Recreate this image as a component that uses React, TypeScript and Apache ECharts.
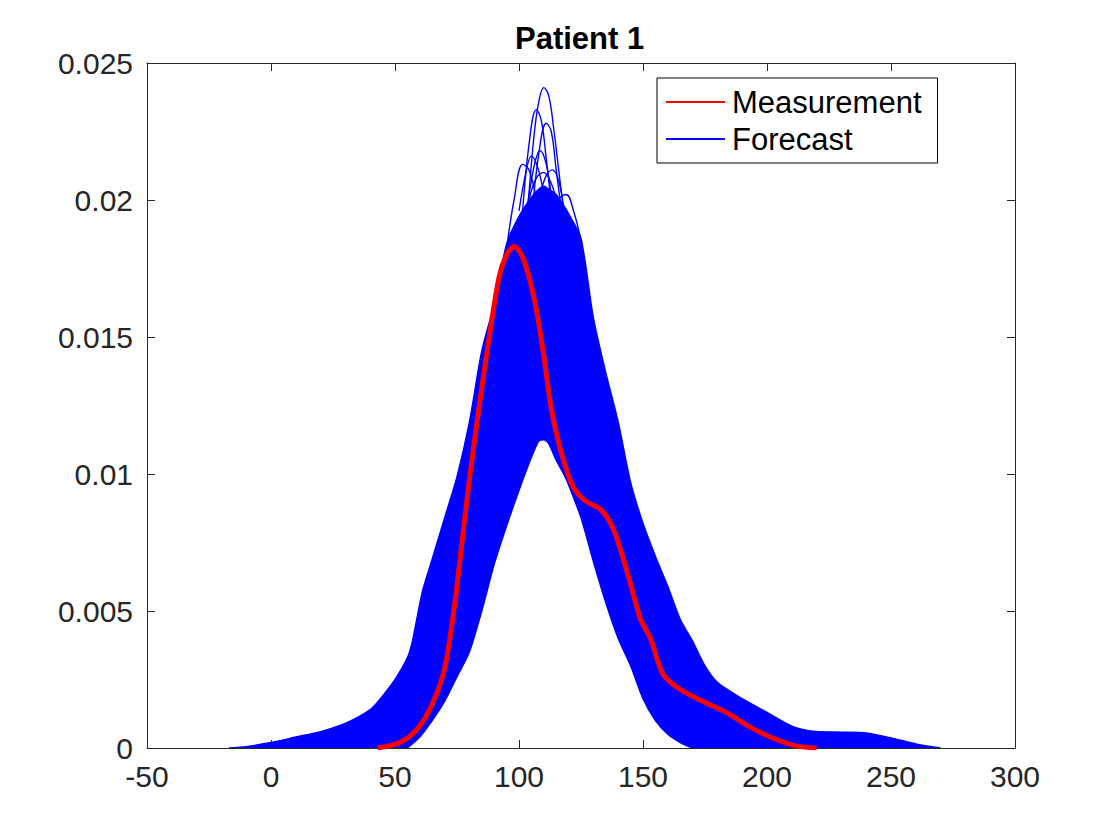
import React, { useEffect, useRef } from "react";
import * as echarts from "echarts";

// Shared x grid for the forecast envelope
const gridX = [-17, -10, 0, 10, 20, 30, 40, 45, 50, 55, 57, 61, 65, 70, 75, 80, 85, 90, 95, 100, 105, 108, 110, 112, 115, 118, 120, 125, 130, 135, 140, 145, 150, 155, 160, 165, 170, 175, 180, 190, 200, 210, 220, 230, 240, 250, 260, 270];
// Upper edge of the dense forecast bundle
const forecastUpper = [0, 0.00005, 0.0002, 0.0004, 0.0006, 0.0009, 0.0014, 0.0019, 0.0025, 0.0033, 0.0039, 0.0057, 0.0069, 0.0084, 0.0099, 0.0119, 0.0145, 0.0162, 0.0184, 0.0194, 0.0201, 0.0204, 0.0205, 0.0204, 0.0202, 0.0198, 0.0195, 0.0186, 0.0157, 0.0137, 0.0119, 0.0097, 0.0082, 0.007, 0.0059, 0.0047, 0.0039, 0.003, 0.0024, 0.0018, 0.0013, 0.0008, 0.0006, 0.00058, 0.00055, 0.00037, 0.00015, 0];
// Lower edge of the forecast bundle (lowest curve)
const lowX = [55, 60, 65, 70, 75, 80, 85, 90, 95, 100, 105, 108, 110, 112, 115, 118, 120, 125, 130, 135, 140, 145, 150, 155, 160, 165, 170];
const forecastLower = [0, 0.0004, 0.001, 0.0017, 0.0026, 0.0035, 0.005, 0.0067, 0.0081, 0.0094, 0.0106, 0.0112, 0.01125, 0.0111, 0.0105, 0.01, 0.0096, 0.0084, 0.0068, 0.0053, 0.004, 0.003, 0.0018, 0.001, 0.0005, 0.0002, 0];

// Tops of individual forecast curves rising above the bundle
const peakA = [[103, 0.019], [106, 0.0223], [108, 0.0236], [110, 0.0241], [112, 0.0238], [114, 0.0226], [116, 0.0211], [118, 0.0196]];
const peakB = [[101, 0.019], [104, 0.022], [107, 0.0233], [109, 0.0229], [111, 0.0215], [113, 0.0199]];
const peakC = [[105, 0.0192], [108, 0.0217], [111, 0.0228], [113, 0.0225], [115, 0.0211], [117, 0.0197]];
const peakD = [[103, 0.0195], [106, 0.0212], [108.5, 0.0218], [111, 0.0213], [113, 0.0201]];
const peakE = [[95, 0.0182], [98, 0.02], [101.5, 0.0213], [104, 0.0211], [107, 0.02]];
const peakF = [[100, 0.0196], [103, 0.0211], [105, 0.0216], [107.5, 0.0212], [110, 0.0202]];
const peakG = [[108, 0.02], [111, 0.0209], [113.5, 0.0211], [116, 0.0207], [118, 0.0197]];
const peakH = [[113, 0.0197], [116.5, 0.0201], [119, 0.0202], [122, 0.0196], [125, 0.0185]];
const peakI = [[104, 0.02], [107, 0.0208], [110, 0.021], [113, 0.0206], [115, 0.02]];
const peaks = [peakA, peakB, peakC, peakD, peakE, peakF, peakG, peakH, peakI];

// Measurement density
const measX = [43, 52, 59, 65, 70, 74, 77, 80, 84, 88, 92, 95, 98, 101, 104, 107, 110, 113, 117, 122, 127, 133, 138, 144, 149, 153, 158, 164, 173, 184, 193, 204, 212, 220];
const measY = [0, 0.0002, 0.0007, 0.0016, 0.0029, 0.0052, 0.0075, 0.0098, 0.0125, 0.015, 0.0172, 0.018, 0.0183, 0.018, 0.0172, 0.016, 0.0143, 0.0124, 0.0108, 0.0095, 0.009, 0.0087, 0.008, 0.0063, 0.0047, 0.004, 0.0027, 0.0022, 0.00175, 0.00128, 0.00077, 0.0003, 0.00007, 0];

const yTickLabels = ["0", "0.005", "0.01", "0.015", "0.02", "0.025"];
const xTicks = { min: -50, max: 300, step: 50 };

const BLUE = "#0000ff";
const RED = "#ff0000";
const AX = "#262626";
const FONT = "Liberation Sans, Helvetica, Arial, sans-serif";

export default function App() {
  const ref = useRef<HTMLDivElement>(null);
  useEffect(() => {
    if (!ref.current) return;
    const chart = echarts.init(ref.current, undefined, { renderer: "svg" });
    const axisCommon = {
      z: 6,
      axisLine: { show: true, onZero: false, lineStyle: { color: AX, width: 1 } },
      axisTick: { show: true, inside: true, length: 8, lineStyle: { color: AX, width: 1 } },
      splitLine: { show: false },
    };
    const xBase = { type: "value", min: xTicks.min, max: xTicks.max, interval: xTicks.step, ...axisCommon };
    const yBase = { type: "value", min: 0, max: 0.025, interval: 0.005, ...axisCommon };
    const lineCommon = {
      type: "line",
      showSymbol: false,
      symbol: "none",
      smooth: 0.25,
      xAxisIndex: 0,
      yAxisIndex: 0,
      itemStyle: { color: BLUE },
      lineStyle: { color: BLUE, width: 1.4 },
      emphasis: { disabled: true },
      silent: true,
    };
    const series: any[] = [
      {
        ...lineCommon,
        name: "Forecast",
        z: 2,
        areaStyle: { color: BLUE, opacity: 1 },
        data: gridX.map((x, i) => [x, forecastUpper[i]]),
      },
      {
        ...lineCommon,
        name: "Forecast",
        z: 3,
        areaStyle: { color: "#ffffff", opacity: 1 },
        data: lowX.map((x, i) => [x, forecastLower[i]]),
      },
      ...peaks.map((p) => ({ ...lineCommon, name: "Forecast", z: 4, smooth: 0.4, data: p })),
      {
        type: "line",
        name: "Measurement",
        showSymbol: false,
        symbol: "none",
        smooth: 0.3,
        z: 10,
        itemStyle: { color: RED },
        lineStyle: { color: RED, width: 5 },
        data: measX.map((x, i) => [x, measY[i]]),
        silent: true,
      },
    ];
    chart.setOption({
      animation: false,
      backgroundColor: "#ffffff",
      title: {
        text: "Patient 1",
        left: 515,
        top: 23,
        padding: 0,
        textStyle: { fontFamily: FONT, fontSize: 31, fontWeight: "bold", color: "#000" },
      },
      grid: { left: 147, right: 105, top: 63, bottom: 92, containLabel: false },
      xAxis: [
        { ...xBase, position: "bottom", axisLabel: { show: true, fontSize: 30, color: AX, fontFamily: FONT, margin: 13 } },
        { ...xBase, position: "top", axisLabel: { show: false } },
      ],
      yAxis: [
        {
          ...yBase,
          position: "left",
          axisLabel: {
            show: true,
            fontSize: 30,
            color: AX,
            fontFamily: FONT,
            margin: 14,
            formatter: (v: number) => yTickLabels[Math.round(v / 0.005)] ?? "",
          },
        },
        { ...yBase, position: "right", axisLabel: { show: false } },
      ],
      legend: {
        data: ["Measurement", "Forecast"],
        orient: "vertical",
        left: 657,
        top: 78,
        z: 12,
        padding: [6, 16, 6, 9],
        itemGap: 1,
        itemWidth: 59,
        itemHeight: 2,
        icon: "rect",
        borderColor: "#000",
        borderWidth: 1,
        backgroundColor: "#fff",
        selectedMode: false,
        textStyle: { fontFamily: FONT, fontSize: 31, lineHeight: 36, color: "#000", padding: [0, 0, 0, 2] },
      },
      series,
    });
    return () => chart.dispose();
  }, []);
  return <div ref={ref} style={{ position: "fixed", left: 0, top: 0, width: 1120, height: 840 }} />;
}
